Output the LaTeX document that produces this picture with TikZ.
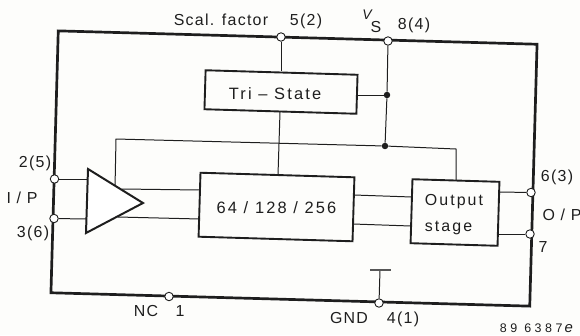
\documentclass[tikz,border=0pt]{standalone}
\usepackage{fontspec}
\setmainfont[LetterSpace=8]{Liberation Sans}
\newfontfamily\widefont[LetterSpace=13]{Liberation Sans}
\newfontfamily\tinyfont[LetterSpace=28]{Liberation Sans}
\usetikzlibrary{calc}
\definecolor{ink}{HTML}{1E1E1E}
\definecolor{paper}{HTML}{FDFDFB}
\tikzset{
  block/.style={draw=ink,line width=1.9pt,rectangle,inner sep=0pt,rotate=-1.7},
  frame/.style={draw=ink,line width=2.7pt,rectangle,inner sep=0pt,rotate=-1.6},
  pin/.style={circle,draw=ink,line width=0.9pt,fill=white,minimum size=8.5pt,inner sep=0pt},
  jn/.style={circle,fill=ink,minimum size=6.5pt,inner sep=0pt},
  wire/.style={draw=ink,line width=1pt},
  lab/.style={text=ink,font=\fontsize{16}{18}\selectfont,inner sep=0pt},
  blab/.style={text=ink,inner sep=0pt,font=\widefont\fontsize{16}{26}\selectfont,align=left},
}
\begin{document}
\begin{tikzpicture}[x=1bp,y=-1bp]
\useasboundingbox (0,0) rectangle (580,335);
\fill[paper] (0,0) rectangle (580,335);

% frame and blocks
\node[frame,minimum width=479bp,minimum height=262bp] (chip) at (294,168.5) {};

% internal coordinates
\coordinate (fbL) at (116,139);
\coordinate (fbR) at (456,149);
\coordinate (fbLd) at (115,188);
\coordinate (fbRd) at (456,180);
\coordinate (t1) at (88,179);
\coordinate (t2) at (87,219);
\coordinate (o1) at (122,189);
\coordinate (o2) at (118,217);
\coordinate (m1) at (200,190);
\coordinate (m2) at (200,219);
\coordinate (m3) at (354,195);
\coordinate (m4) at (353,224);
\coordinate (s1) at (412,197);
\coordinate (s2) at (411,226);
\coordinate (s3) at (499,192);
\coordinate (s4) at (498,234);
\coordinate (vtop) at (281,71);
\coordinate (tribot) at (280,112);
\coordinate (mtop) at (278,175);
\coordinate (tright) at (357,95);
\coordinate (bar) at (380,270);

% pins
\node[pin] (p5) at (281,37) {};
\node[pin] (p8) at (388,41) {};
\node[pin] (p2) at (54.5,179) {};
\node[pin] (p3) at (54,218.5) {};
\node[pin] (p1) at (169,296.5) {};
\node[pin] (p4) at (379,303) {};
\node[pin] (p6) at (531,192.5) {};
\node[pin] (p7) at (530,234) {};
\node[jn] (d1) at (387,95) {};
\node[jn] (d2) at (385,146) {};

% wires
\draw[wire] (p5) -- (vtop);
\draw[wire] (p8) -- (d1) -- (d2);
\draw[wire] (tright) -- (d1);
\draw[wire] (tribot) -- (mtop);
\draw[wire] (fbLd) -- (fbL) -- (d2) -- (fbR) -- (fbRd);
\draw[wire] (p2) -- (t1);
\draw[wire] (p3) -- (t2);
\draw[wire] (o1) -- (m1);
\draw[wire] (o2) -- (m2);
\draw[wire] (m3) -- (s1);
\draw[wire] (m4) -- (s2);
\draw[wire] (s3) -- (p6);
\draw[wire] (s4) -- (p7);
\draw[wire] (p4) -- (bar);
\draw[draw=ink!75,line width=2.4pt] (370,270) -- (391,270);

% blocks
\node[block,minimum width=152bp,minimum height=39bp] (tri) at (281,92) {};
\node[lab,font=\widefont\fontsize{16.5}{18}\selectfont] (tritext) at (275,94) {Tri – State};
\node[block,minimum width=154bp,minimum height=64bp] (cnt) at (276.5,207) {};
\node[lab,font=\widefont\fontsize{16.5}{18}\selectfont] (cnttext) at (276.5,208) {64 / 128 / 256};
\node[block,minimum width=87bp,minimum height=64bp] (out) at (455,212.5) {};
\node[blab] (outtext) at (454,215) {Output\\stage};

% amplifier
\draw[ink,line width=2pt,fill=white,line join=miter] (88,169) -- (143,203) -- (86,233) -- cycle;

% labels
\node[lab] (l1) at (221,20) {Scal. factor};
\node[lab] (l2) at (306,21) {5(2)};
\node[lab,font=\fontsize{14}{16}\selectfont] (l3) at (368,15) {\textit{V}};
\node[lab] (l4) at (376,27) {S};
\node[lab] (l5) at (414,25) {8(4)};
\node[lab] (l6) at (35,163) {2(5)};
\node[lab] (l7) at (22,198) {I / P};
\node[lab] (l8) at (33,233) {3(6)};
\node[lab] (l9) at (146,311) {NC};
\node[lab] (l10) at (180,311) {1};
\node[lab] (l11) at (349,318) {GND};
\node[lab] (l12) at (403,319) {4(1)};
\node[lab] (l13) at (557,177) {6(3)};
\node[lab] (l14) at (562,215) {O / P};
\node[lab] (l15) at (543,247) {7};
\node[lab,font=\tinyfont\fontsize{12.5}{14}\selectfont] (l16) at (538.5,328) {89 6387\,{\fontsize{15}{15}\selectfont\textit{e}}};
\end{tikzpicture}
\end{document}
